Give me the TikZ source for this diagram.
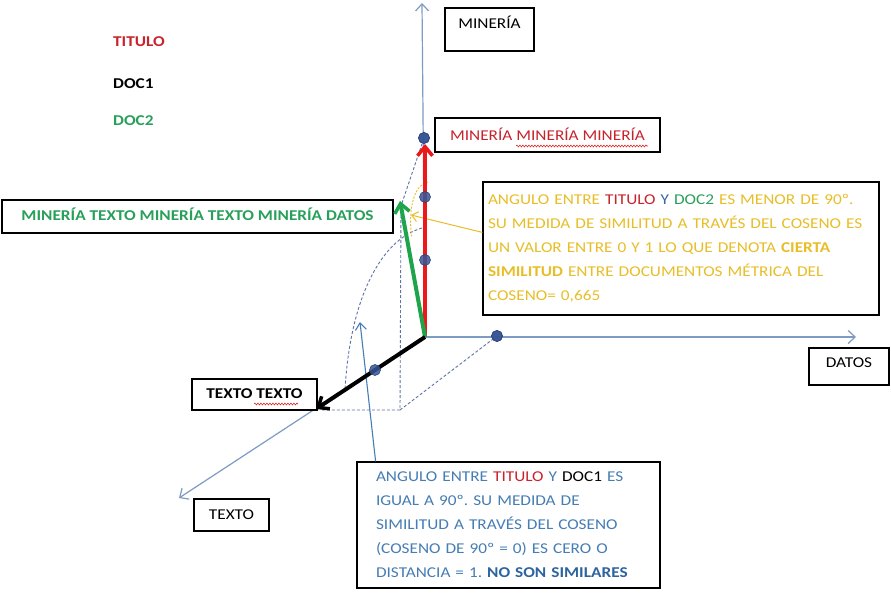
\documentclass[tikz,border=0pt]{standalone}
\usepackage{fontspec}
\setmainfont{Carlito}[FakeStretch=1.15]
\usetikzlibrary{arrows.meta,calc,decorations.pathmorphing}
\definecolor{tred}{RGB}{200,35,45}
\definecolor{tgreen}{RGB}{40,160,90}
\definecolor{tyellow}{RGB}{232,190,40}
\definecolor{tblue}{RGB}{70,125,180}
\definecolor{tbluedark}{RGB}{45,100,160}
\definecolor{tyblue}{RGB}{60,100,170}
\definecolor{axiscol}{RGB}{125,155,195}
\definecolor{dashcol}{RGB}{95,115,165}
\definecolor{dotcol}{RGB}{55,85,150}
\definecolor{arrred}{RGB}{235,25,25}
\definecolor{arrgreen}{RGB}{30,165,75}
\definecolor{squig}{RGB}{220,40,40}
\frenchspacing
\begin{document}
\begin{tikzpicture}[x=1pt,y=-1pt,
  every node/.style={font=\fontsize{15}{24}\selectfont\frenchspacing},
  axis/.style={draw=axiscol, line width=1.2pt, -{Straight Barb[length=7pt,width=13pt]}},
  guide/.style={draw=dashcol, line width=0.9pt, dash pattern=on 3pt off 2pt},
  vec/.style={line width=4pt, -{Straight Barb[length=9pt,width=15pt,line width=3.5pt]}},
  dot/.style={circle, fill=dotcol, draw=dotcol!80!black, line width=0.6pt, minimum size=11pt, inner sep=0pt, fill opacity=0.85},
  box/.style={draw=black, line width=1.1pt, fill=white, inner sep=0pt},
  legend/.style={anchor=west, inner sep=0pt, font=\fontsize{15}{24}\selectfont\bfseries},
  spell/.style={draw=squig, line width=0.6pt, decorate, decoration={snake, amplitude=0.9pt, segment length=3pt}}
]
\path[use as bounding box, fill=white] (0,0) rectangle (891,595);

% coordinates
\coordinate (O) at (425,337);
\coordinate (ytop) at (422,3);
\coordinate (xend) at (856,337);
\coordinate (zend) at (179,498);
\coordinate (redtip) at (425,144);
\coordinate (greentip) at (400,201);
\coordinate (blacktip) at (316,409);
\coordinate (g1) at (401,206);
\coordinate (c1) at (400,410);
\coordinate (c2) at (322,410);
\coordinate (a1) at (422,228);
\coordinate (a2) at (345,390);
\coordinate (y1) at (428,182);
\coordinate (y2) at (412,238);
\coordinate (yhead) at (411,215);
\coordinate (bhead) at (360,322);

% axes
\draw[axis] (O) -- (ytop);
\draw[axis] (O) -- (xend);
\draw[axis] (O) -- (zend);

% legend
\node[legend, text=tred] (legT) at (113,41.5) {TITULO};
\node[legend, text=black] (legD1) at (113,84) {DOC1};
\node[legend, text=tgreen] (legD2) at (113,121) {DOC2};

% boxes
\node[box, minimum width=89pt, minimum height=43pt, text height=10pt, text depth=11.34pt] (minbox) at (489.5,29.5) {MINERÍA};
\node[box, minimum width=225pt, minimum height=34pt, text height=11.7pt, text depth=0pt, text=tred] (redbox) at (547.5,135) {MINERÍA MINERÍA MINERÍA};
\node[box, minimum width=391pt, minimum height=33pt, text height=10pt, text depth=2.34pt, text=tgreen, font=\fontsize{15}{24}\selectfont\bfseries] (greenbox) at (197.5,216.5) {MINERÍA TEXTO MINERÍA TEXTO MINERÍA DATOS};
\node[box, minimum width=125pt, minimum height=31pt, text height=10pt, text depth=2.34pt, font=\fontsize{15}{24}\selectfont\bfseries] (ttbox) at (254.5,394.5) {TEXTO TEXTO};
\node[box, minimum width=75pt, minimum height=32pt, text height=10pt, text depth=0.34pt] (tbox) at (231.5,515) {TEXTO};
\node[box, minimum width=80pt, minimum height=37pt, text height=10pt, text depth=7.34pt] (dbox) at (849,366.5) {DATOS};

% spelling squiggles
\coordinate (s1a) at (516,146);
\coordinate (s1b) at (648,146);
\coordinate (s2a) at (254,404);
\coordinate (s2b) at (298,404);
\draw[spell] (s1a) -- (s1b);
\draw[spell] (s2a) -- (s2b);

\node[box, minimum width=396pt, minimum height=133pt, inner xsep=5pt, text width=386pt, align=left, text=tyellow] (ybox) at (681,248.5)
{ANGULO ENTRE \textcolor{tred}{TITULO} \textcolor{tyblue}{Y} \textcolor{tgreen}{DOC2} ES MENOR DE 90º.\\
SU MEDIDA DE SIMILITUD A TRAVÉS DEL COSENO ES\\
UN VALOR ENTRE 0 Y 1 LO QUE DENOTA \textbf{CIERTA}\\
\textbf{SIMILITUD} ENTRE DOCUMENTOS MÉTRICA DEL\\
COSENO= 0,665};

\node[box, minimum width=303pt, minimum height=126pt, inner xsep=19pt, text width=265pt, align=left, text=tblue] (bbox) at (508.5,525)
{ANGULO ENTRE \textcolor{tred}{TITULO} Y \textcolor{black}{DOC1} ES\\
IGUAL A 90º. SU MEDIDA DE\\
SIMILITUD A TRAVÉS DEL COSENO\\
(COSENO DE 90º = 0) ES CERO O\\
DISTANCIA = 1. \textcolor{tbluedark}{\textbf{NO SON SIMILARES}}};

% dashed construction lines
\node[dot] (d1) at (424,138) {};
\node[dot] (d4) at (497,336) {};
\draw[guide] (d1) -- (g1) -- (c1) -- (c2);
\draw[guide] (c1) -- (d4);
\draw[guide] (a1) .. controls (380,240) and (350,300) .. (a2);

% yellow angle mark and pointer
\draw[draw=tyellow, line width=0.9pt, dash pattern=on 2pt off 1.5pt] (y1) .. controls (412,185) and (408,215) .. (y2);
\draw[draw=tyellow, line width=1pt, -{Straight Barb[length=6pt,width=10pt]}] ($(ybox.north west)!0.38!(ybox.south west)$) -- (yhead);

% blue pointer
\draw[draw=tblue, line width=1.1pt, -{Straight Barb[length=7pt,width=11pt]}] ($(bbox.north west)!0.063!(bbox.north east)$) -- (bhead);

% vectors
\draw[vec, draw=arrred] (O) -- (redtip);
\draw[vec, draw=arrgreen] (O) -- (greentip);
\draw[vec, draw=black] (O) -- (blacktip);

% points
\node[dot] (d1b) at (d1) {};
\node[dot] (d2) at (425,197) {};
\node[dot] (d3) at (425,260) {};
\node[dot] (d5) at (375,370) {};
\node[dot] (d4b) at (d4) {};
\end{tikzpicture}
\end{document}
